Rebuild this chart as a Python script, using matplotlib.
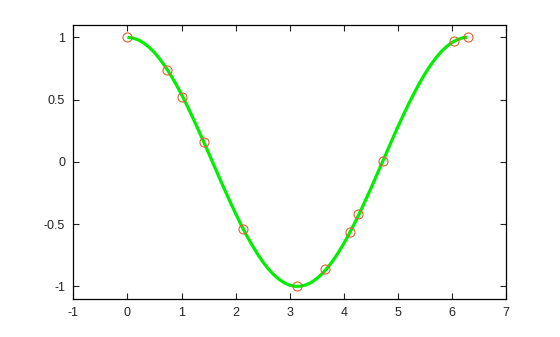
import matplotlib
matplotlib.use("Agg")
import matplotlib.pyplot as plt

# sample points (circles)
px = [0.0, 0.73, 1.01, 1.41, 2.13, 3.13, 3.65, 4.11, 4.26, 4.72, 6.03, 6.29]
py = [1.0, 0.74, 0.52, 0.16, -0.54, -1.0, -0.86, -0.56, -0.42, 0.01, 0.97, 1.0]

# green curve
cx = [0.0, 0.1, 0.2, 0.3, 0.4, 0.5, 0.6, 0.7, 0.8, 0.9, 1.0, 1.1, 1.2, 1.3, 1.4, 1.5,
      1.6, 1.7, 1.8, 1.9, 2.0, 2.1, 2.2, 2.3, 2.4, 2.5, 2.6, 2.7, 2.8, 2.9, 3.0, 3.1,
      3.2, 3.3, 3.4, 3.5, 3.6, 3.7, 3.8, 3.9, 4.0, 4.1, 4.2, 4.3, 4.4, 4.5, 4.6, 4.7,
      4.8, 4.9, 5.0, 5.1, 5.2, 5.3, 5.4, 5.5, 5.6, 5.7, 5.8, 5.9, 6.0, 6.1, 6.2, 6.28]
cy = [1.0, 0.995, 0.98, 0.955, 0.921, 0.878, 0.825, 0.765, 0.697, 0.622, 0.54, 0.454,
      0.362, 0.267, 0.17, 0.071, -0.029, -0.129, -0.227, -0.323, -0.416, -0.505,
      -0.589, -0.666, -0.737, -0.801, -0.857, -0.904, -0.942, -0.971, -0.99, -0.999,
      -0.998, -0.987, -0.967, -0.936, -0.897, -0.848, -0.791, -0.726, -0.654, -0.575,
      -0.49, -0.401, -0.307, -0.211, -0.112, -0.012, 0.087, 0.187, 0.284, 0.378,
      0.469, 0.554, 0.635, 0.709, 0.776, 0.835, 0.886, 0.927, 0.96, 0.983, 0.997, 1.0]

xticks = [-1, 0, 1, 2, 3, 4, 5, 6, 7]
yticks = [-1, -0.5, 0, 0.5, 1]
ylabels = ["-1", "-0.5", "0", "0.5", "1"]

plt.rcParams['font.family'] = ['Liberation Sans', 'DejaVu Sans']
fig = plt.figure(figsize=(5.6, 3.37), dpi=100)
ax = fig.add_axes([0.131, 0.113, 0.773, 0.813])

ax.plot(cx, cy, color='#00ee00', lw=2.3, solid_capstyle='butt')
ax.plot(px, py, 'o', mfc='none', mec='#e0602c', ms=6.5, mew=0.8)

ax.set_xlim(-1, 7)
ax.set_ylim(-1.1, 1.1)
ax.set_xticks(xticks)
ax.set_xticklabels([str(t) for t in xticks])
ax.set_yticks(yticks)
ax.set_yticklabels(ylabels)
ax.tick_params(direction='in', top=True, right=True, length=4, width=0.8,
               labelsize=9, colors='#222222', pad=6)
for s in ax.spines.values():
    s.set_linewidth(0.9)

fig.savefig("out.png", dpi=100)
